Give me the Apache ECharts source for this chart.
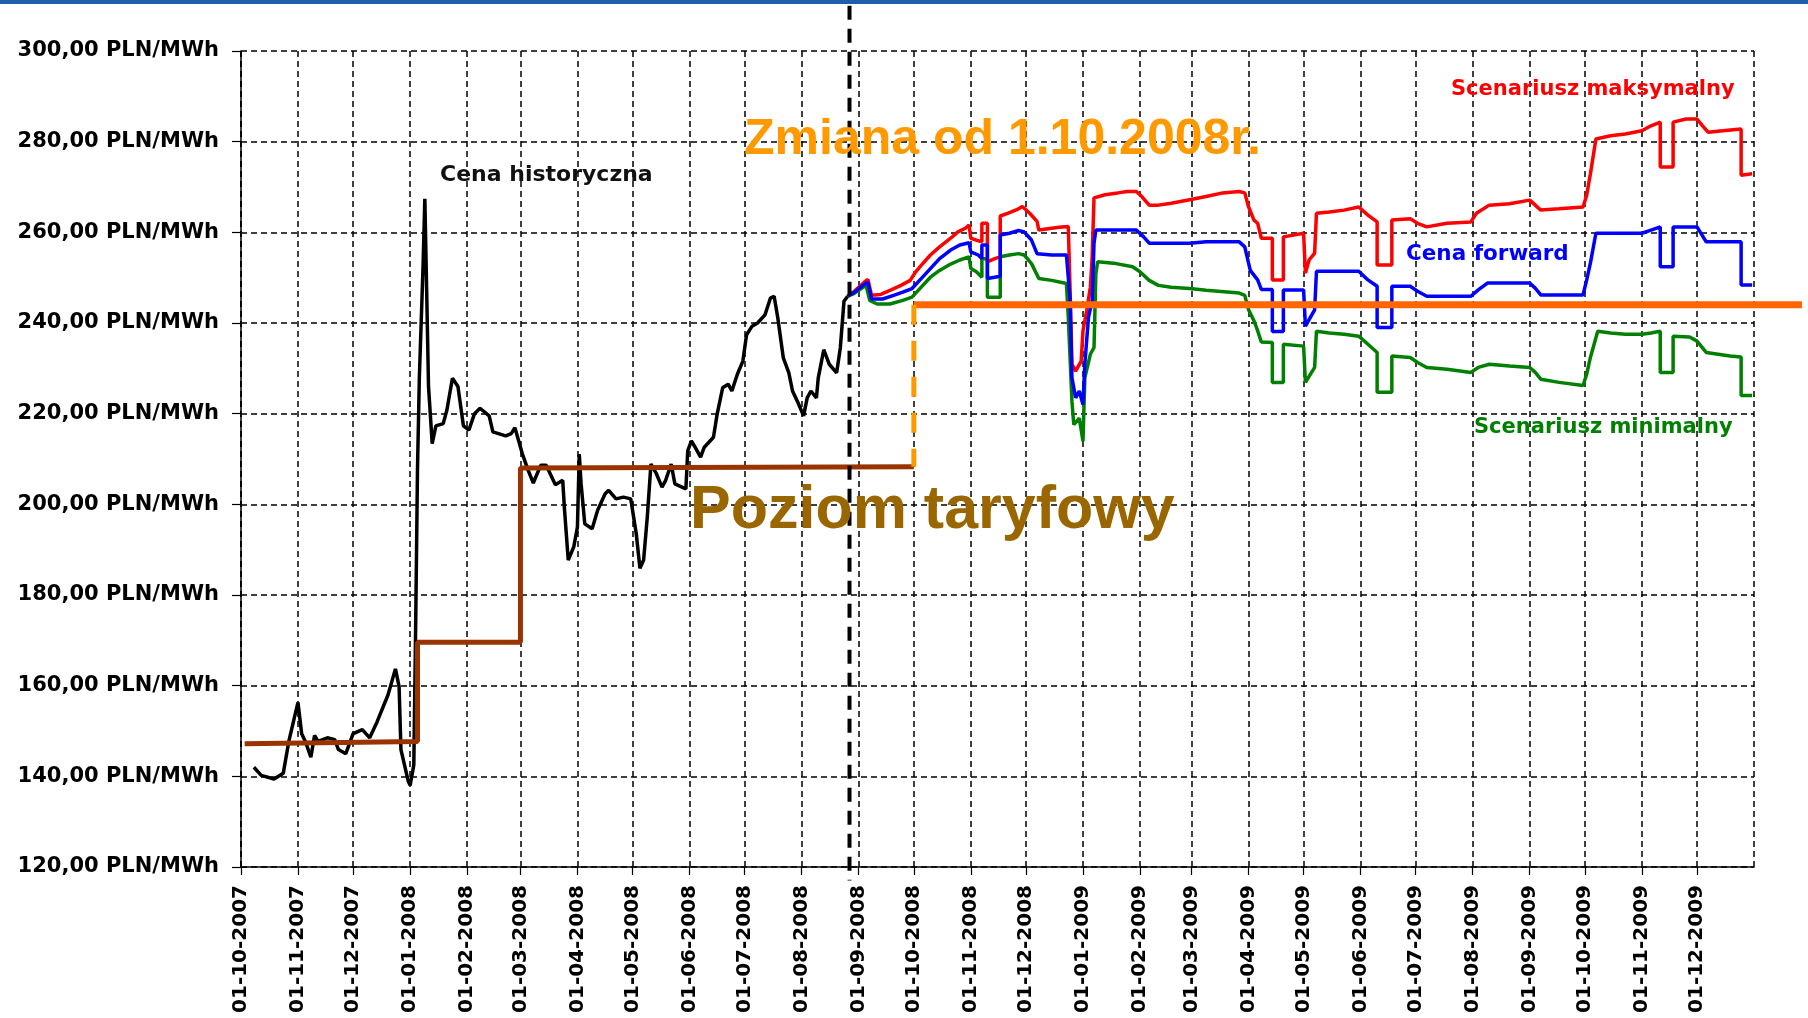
<!DOCTYPE html>
<html>
<head>
<meta charset="utf-8">
<script src="https://cdn.jsdelivr.net/npm/echarts@6.0.0/dist/echarts.min.js"></script>
<style>
  html, body { margin: 0; padding: 0; background: #fff; }
  #chart { width: 1808px; height: 1018px; }
  .topbar { position: absolute; left: 0; top: 0; width: 1808px; height: 4px; background: #1f5faa; z-index: 2; }
</style>
</head>
<body>
<div class="topbar"></div>
<div id="chart"></div>
<script>
  // cena historyczna (spot)
  var historical = [
    ['2007-10-08',142.0],['2007-10-12',140.2],['2007-10-19',139.4],['2007-10-24',140.7],['2007-10-27',147.7],
    ['2007-10-30',152.9],['2007-11-01',156.3],['2007-11-03',149.4],['2007-11-05',147.7],['2007-11-08',144.2],
    ['2007-11-10',149.0],['2007-11-12',147.7],['2007-11-17',148.5],['2007-11-21',148.1],['2007-11-23',145.9],
    ['2007-11-27',145.0],['2007-12-01',149.4],['2007-12-06',150.3],['2007-12-10',148.5],['2007-12-14',152.0],
    ['2007-12-20',158.0],['2007-12-24',163.7],['2007-12-26',159.8],['2007-12-27',145.9],['2007-12-31',138.9],
    ['2008-01-01',138.0],['2008-01-03',142.5],['2008-01-04',172.9],['2008-01-05',207.7],['2008-01-06',227.8],
    ['2008-01-07',240.0],['2008-01-08',252.2],['2008-01-09',267.4],['2008-01-10',247.0],['2008-01-11',226.0],
    ['2008-01-13',213.4],['2008-01-15',217.3],['2008-01-19',217.8],['2008-01-21',220.8],['2008-01-24',227.8],
    ['2008-01-27',226.0],['2008-01-30',217.3],['2008-02-02',216.4],['2008-02-05',220.0],['2008-02-08',221.2],
    ['2008-02-13',219.5],['2008-02-15',216.0],['2008-02-22',215.1],['2008-02-25',215.6],['2008-02-27',216.9],
    ['2008-03-02',211.2],['2008-03-05',207.7],['2008-03-08',204.7],['2008-03-12',208.6],['2008-03-15',208.6],
    ['2008-03-20',204.3],['2008-03-24',205.3],['2008-03-25',198.7],['2008-03-27',187.7],['2008-03-30',190.6],
    ['2008-04-01',195.0],['2008-04-02',211.1],['2008-04-03',204.5],['2008-04-05',195.7],['2008-04-09',194.6],
    ['2008-04-12',198.7],['2008-04-16',202.3],['2008-04-18',203.1],['2008-04-22',201.2],['2008-04-26',201.6],
    ['2008-04-30',201.2],['2008-05-03',193.5],['2008-05-05',185.9],['2008-05-07',187.7],['2008-05-09',197.2],
    ['2008-05-11',208.9],['2008-05-14',206.7],['2008-05-17',203.8],['2008-05-19',205.3],['2008-05-22',208.9],
    ['2008-05-24',204.5],['2008-05-30',203.4],['2008-05-31',211.8],['2008-06-02',214.0],['2008-06-04',212.6],
    ['2008-06-07',210.4],['2008-06-09',212.6],['2008-06-14',214.8],['2008-06-16',219.9],['2008-06-19',225.7],
    ['2008-06-22',226.5],['2008-06-24',225.0],['2008-06-27',228.7],['2008-06-30',231.6],['2008-07-02',237.4],
    ['2008-07-05',239.3],['2008-07-08',240.0],['2008-07-12',241.8],['2008-07-15',245.5],['2008-07-17',245.9],
    ['2008-07-19',241.1],['2008-07-22',232.3],['2008-07-25',229.0],['2008-07-27',225.0],['2008-07-30',222.4],
    ['2008-08-02',219.5],['2008-08-04',223.5],['2008-08-06',225.0],['2008-08-09',223.5],['2008-08-10',227.9],
    ['2008-08-13',234.1],['2008-08-16',230.9],['2008-08-20',229.0],['2008-08-22',234.5],['2008-08-24',244.8],
    ['2008-08-26',245.9]
  ];

  // scenariusz maksymalny
  var maxScenario = [
    ['2008-08-26',245.9],['2008-08-29',246.8],['2008-09-04',249.0],['2008-09-06',249.6],['2008-09-08',246.1],
    ['2008-09-13',246.3],['2008-09-18',247.2],['2008-09-24',248.3],['2008-09-29',249.4],['2008-10-02',251.3],
    ['2008-10-05',252.7],['2008-10-10',255.0],['2008-10-15',256.8],['2008-10-21',258.7],['2008-10-25',260.1],
    ['2008-10-29',260.9],['2008-10-31',261.6],['2008-11-01',258.7],['2008-11-04',258.3],['2008-11-07',257.9],
    ['2008-11-07',262.0],['2008-11-10',262.0],['2008-11-10',253.5],['2008-11-14',254.2],['2008-11-17',254.6],
    ['2008-11-17',263.6],['2008-11-21',264.2],['2008-11-26',265.0],['2008-11-29',265.7],['2008-12-03',264.2],
    ['2008-12-07',262.4],['2008-12-08',260.5],['2008-12-19',261.1],['2008-12-24',261.3],['2008-12-25',247.2],
    ['2008-12-26',230.9],['2008-12-28',229.4],['2008-12-31',231.6],['2009-01-01',238.3],['2009-01-03',242.7],
    ['2009-01-05',247.9],['2009-01-06',254.6],['2009-01-07',267.6],['2009-01-13',268.3],['2009-01-20',268.7],
    ['2009-01-25',269.0],['2009-01-30',269.0],['2009-02-02',267.9],['2009-02-06',266.0],['2009-02-11',266.0],
    ['2009-02-18',266.4],['2009-02-28',267.2],['2009-03-09',267.9],['2009-03-18',268.7],['2009-03-27',269.0],
    ['2009-03-30',268.7],['2009-04-01',265.7],['2009-04-04',262.7],['2009-04-06',262.0],['2009-04-08',258.7],
    ['2009-04-14',258.7],['2009-04-14',249.5],['2009-04-20',249.5],['2009-04-20',259.0],['2009-05-01',259.8],
    ['2009-05-02',251.0],['2009-05-04',253.9],['2009-05-07',255.4],['2009-05-08',264.2],['2009-05-15',264.5],
    ['2009-05-23',264.9],['2009-05-31',265.6],['2009-06-05',263.8],['2009-06-10',262.3],['2009-06-10',252.8],
    ['2009-06-18',252.8],['2009-06-18',262.7],['2009-06-28',263.0],['2009-07-02',262.0],['2009-07-07',261.2],
    ['2009-07-18',262.0],['2009-07-31',262.3],['2009-08-03',264.2],['2009-08-10',266.0],['2009-08-21',266.3],
    ['2009-09-01',267.1],['2009-09-04',266.0],['2009-09-07',264.9],['2009-09-17',265.2],['2009-09-30',265.6],
    ['2009-10-02',268.2],['2009-10-04',272.9],['2009-10-07',280.6],['2009-10-15',281.3],['2009-10-23',281.7],
    ['2009-11-01',282.4],['2009-11-06',283.5],['2009-11-11',284.3],['2009-11-11',274.4],['2009-11-18',274.4],
    ['2009-11-18',284.3],['2009-11-25',285.0],['2009-12-01',285.0],['2009-12-04',283.5],['2009-12-07',282.1],
    ['2009-12-15',282.4],['2009-12-25',282.8],['2009-12-25',272.6],['2009-12-31',272.9]
  ];

  // cena forward
  var forwardPrice = [
    ['2008-08-26',245.9],['2008-08-29',246.6],['2008-09-04',248.5],['2008-09-06',249.0],['2008-09-08',245.3],
    ['2008-09-14',245.3],['2008-09-20',246.1],['2008-09-25',246.8],['2008-09-30',247.6],['2008-10-05',249.8],
    ['2008-10-10',252.0],['2008-10-15',254.2],['2008-10-21',256.1],['2008-10-26',257.2],['2008-10-31',257.7],
    ['2008-11-01',255.7],['2008-11-05',255.0],['2008-11-07',254.2],['2008-11-07',257.2],['2008-11-10',257.2],
    ['2008-11-10',249.8],['2008-11-17',250.3],['2008-11-17',259.4],['2008-11-22',259.8],['2008-11-27',260.4],
    ['2008-11-30',260.1],['2008-12-04',258.3],['2008-12-07',255.3],['2008-12-15',255.0],['2008-12-23',255.0],
    ['2008-12-24',250.1],['2008-12-25',245.0],['2008-12-26',227.9],['2008-12-28',223.5],['2008-12-30',225.0],
    ['2009-01-01',222.0],['2009-01-02',230.9],['2009-01-04',241.3],['2009-01-06',245.0],['2009-01-07',257.6],
    ['2009-01-08',260.5],['2009-01-30',260.5],['2009-02-03',259.0],['2009-02-06',257.6],['2009-02-28',257.6],
    ['2009-03-09',257.9],['2009-03-27',257.9],['2009-03-30',256.8],['2009-04-02',251.6],['2009-04-06',249.5],
    ['2009-04-08',247.4],['2009-04-14',247.4],['2009-04-14',238.1],['2009-04-20',238.1],['2009-04-20',247.3],
    ['2009-05-01',247.3],['2009-05-02',239.3],['2009-05-07',242.9],['2009-05-08',251.4],['2009-05-31',251.4],
    ['2009-06-05',249.5],['2009-06-10',248.1],['2009-06-10',239.0],['2009-06-18',239.0],['2009-06-18',248.1],
    ['2009-06-28',248.1],['2009-07-02',247.0],['2009-07-07',245.9],['2009-07-31',245.9],['2009-08-04',247.3],
    ['2009-08-09',248.8],['2009-09-01',248.8],['2009-09-04',247.7],['2009-09-07',246.2],['2009-09-30',246.2],
    ['2009-10-02',249.5],['2009-10-04',253.2],['2009-10-07',259.8],['2009-11-01',259.8],['2009-11-06',260.5],
    ['2009-11-11',261.2],['2009-11-11',252.4],['2009-11-18',252.4],['2009-11-18',261.2],['2009-12-01',261.2],
    ['2009-12-06',257.9],['2009-12-25',257.9],['2009-12-25',248.4],['2009-12-31',248.4]
  ];

  // scenariusz minimalny
  var minScenario = [
    ['2008-08-26',245.9],['2008-08-29',246.4],['2008-09-05',248.3],['2008-09-06',247.9],['2008-09-07',245.0],
    ['2008-09-11',244.2],['2008-09-18',244.2],['2008-09-25',245.0],['2008-09-30',245.7],['2008-10-05',247.9],
    ['2008-10-10',250.1],['2008-10-15',251.6],['2008-10-21',253.0],['2008-10-26',253.9],['2008-10-31',254.6],
    ['2008-11-01',252.0],['2008-11-04',251.3],['2008-11-07',250.1],['2008-11-07',254.2],['2008-11-10',254.2],
    ['2008-11-10',245.7],['2008-11-17',245.7],['2008-11-17',254.6],['2008-11-22',255.0],['2008-11-27',255.3],
    ['2008-11-30',255.0],['2008-12-04',253.1],['2008-12-08',249.8],['2008-12-15',249.4],['2008-12-23',248.7],
    ['2008-12-24',241.3],['2008-12-26',222.7],['2008-12-27',217.6],['2008-12-30',219.0],['2009-01-01',213.9],
    ['2009-01-02',227.9],['2009-01-05',233.1],['2009-01-07',234.6],['2009-01-08',250.9],['2009-01-09',253.5],
    ['2009-01-19',253.1],['2009-01-28',252.4],['2009-02-01',251.3],['2009-02-06',249.4],['2009-02-11',248.3],
    ['2009-02-18',247.9],['2009-02-28',247.6],['2009-03-09',247.2],['2009-03-27',246.6],['2009-03-30',246.1],
    ['2009-04-01',243.0],['2009-04-04',240.5],['2009-04-06',238.3],['2009-04-08',235.8],['2009-04-14',235.7],
    ['2009-04-14',226.9],['2009-04-20',226.9],['2009-04-20',235.3],['2009-05-01',234.9],['2009-05-02',226.9],
    ['2009-05-07',230.2],['2009-05-08',238.2],['2009-05-15',237.8],['2009-05-23',237.5],['2009-05-31',237.1],
    ['2009-06-05',235.3],['2009-06-10',233.5],['2009-06-10',224.7],['2009-06-18',224.7],['2009-06-18',232.7],
    ['2009-06-28',232.4],['2009-07-02',231.3],['2009-07-07',230.2],['2009-07-18',229.8],['2009-07-31',229.1],
    ['2009-08-04',230.2],['2009-08-10',230.9],['2009-08-21',230.5],['2009-09-01',230.2],['2009-09-04',229.1],
    ['2009-09-07',227.6],['2009-09-17',226.9],['2009-09-30',226.2],['2009-10-02',228.7],['2009-10-04',232.4],
    ['2009-10-08',238.2],['2009-10-15',237.8],['2009-10-23',237.5],['2009-11-01',237.5],['2009-11-06',237.8],
    ['2009-11-11',238.2],['2009-11-11',229.1],['2009-11-18',229.1],['2009-11-18',237.1],['2009-11-27',236.9],
    ['2009-12-01',236.0],['2009-12-06',233.5],['2009-12-19',232.7],['2009-12-25',232.5],['2009-12-25',224.0],
    ['2009-12-31',224.0]
  ];

  // poziom taryfowy (stary) i nowy od 1.10.2008
  var tariffLevel = [
    ['2007-10-03',147.2],['2008-01-05',147.7],['2008-01-05',169.6],['2008-03-01',169.6],
    ['2008-03-01',208.0],['2008-10-01',208.3]
  ];
  var tariffStep = [['2008-10-01',244.0],['2008-10-01',208.3]];
  var newTariff = [['2008-10-01',244.0],['2010-01-27',244.0]];

  // granica danych historycznych
  var cutLine = [['2008-08-27',310],['2008-08-27',117]];

  var yMin = 120, yMax = 300, yStep = 20;
  var xStart = '2007-10-01', xEnd = '2010-01-01', xEndWide = '2010-01-27';

  function pad(n) { return (n < 10 ? '0' : '') + n; }
  function fmtDate(v) {
    var d = new Date(v);
    return pad(d.getDate()) + '-' + pad(d.getMonth() + 1) + '-' + d.getFullYear();
  }

  var myChart = echarts.init(document.getElementById('chart'));
  var labelFont = '"DejaVu Sans", Verdana, sans-serif';
  var bigFont = '"Liberation Sans", Arial, sans-serif';

  var option = {
    animation: false,
    backgroundColor: '#fff',
    grid: [
      { left: 241, right: 54, top: 51, bottom: 151, containLabel: false, outerBoundsMode: 'none' },
      // szersza siatka tylko dla linii nowej taryfy, ktora wychodzi poza wykres
      { left: 241, right: 6, top: 51, bottom: 151, containLabel: false, outerBoundsMode: 'none' }
    ],
    xAxis: [{
      type: 'time',
      gridIndex: 0,
      min: xStart,
      max: xEnd,
      splitNumber: 27,
      axisLine: { lineStyle: { color: '#000', width: 1.5 } },
      axisTick: { show: true, length: 8, lineStyle: { color: '#000', width: 1.2 } },
      axisLabel: {
        rotate: 90,
        margin: 18,
        hideOverlap: false,
        showMaxLabel: false,
        color: '#000',
        fontFamily: labelFont,
        fontWeight: 'bold',
        fontSize: 20,
        formatter: function (v) { return fmtDate(v); }
      },
      splitLine: { show: true, lineStyle: { color: '#000', width: 1.5, type: [6, 4] } }
    }, {
      type: 'time',
      gridIndex: 1,
      min: xStart,
      max: xEndWide,
      show: false
    }],
    yAxis: [{
      type: 'value',
      gridIndex: 0,
      min: yMin,
      max: yMax,
      interval: yStep,
      axisLine: { show: true, lineStyle: { color: '#000', width: 1.5 } },
      axisTick: { show: true, length: 9, lineStyle: { color: '#000', width: 1.2 } },
      axisLabel: {
        margin: 22,
        color: '#000',
        fontFamily: labelFont,
        fontWeight: 'bold',
        fontSize: 21,
        formatter: function (v) { return v.toFixed(2).replace('.', ',') + ' PLN/MWh'; }
      },
      splitLine: { show: true, lineStyle: { color: '#000', width: 1.5, type: [6, 4] } }
    }, {
      type: 'value',
      gridIndex: 1,
      min: yMin,
      max: yMax,
      show: false,
      splitLine: { show: false }
    }],
    series: [
      { name: 'Cena historyczna', type: 'line', data: historical, showSymbol: false,
        lineStyle: { color: '#000', width: 3.5 } },
      { name: 'Poziom taryfowy', type: 'line', data: tariffLevel, showSymbol: false,
        lineStyle: { color: '#993300', width: 5 } },
      { name: 'Scenariusz minimalny', type: 'line', data: minScenario, showSymbol: false,
        lineStyle: { color: '#008000', width: 3.5 } },
      { name: 'Scenariusz maksymalny', type: 'line', data: maxScenario, showSymbol: false,
        lineStyle: { color: '#ff0000', width: 3.5 } },
      { name: 'Cena forward', type: 'line', data: forwardPrice, showSymbol: false,
        lineStyle: { color: '#0000ff', width: 3.5 } },
      { name: 'Nowy poziom', type: 'line', data: newTariff, showSymbol: false,
        xAxisIndex: 1, yAxisIndex: 1,
        lineStyle: { color: '#ff6600', width: 7 } },
      { name: 'Zmiana', type: 'line', data: tariffStep, showSymbol: false,
        lineStyle: { color: '#ff9900', width: 5, type: [20, 16] } },
      { name: 'Granica', type: 'line', data: cutLine, showSymbol: false, clip: false,
        lineStyle: { color: '#000', width: 4, type: [14, 9] } }
    ],
    graphic: [
      { type: 'text', x: 440, y: 175, z: 100,
        style: { text: 'Cena historyczna', fill: '#111', font: 'bold 22px ' + labelFont, verticalAlign: 'middle' } },
      { type: 'text', x: 1451, y: 90, z: 100,
        style: { text: 'Scenariusz maksymalny', fill: '#ff0000', font: 'bold 21px ' + labelFont, verticalAlign: 'middle' } },
      { type: 'text', x: 1406, y: 254, z: 100,
        style: { text: 'Cena forward', fill: '#0000ff', font: 'bold 21.5px ' + labelFont, verticalAlign: 'middle' } },
      { type: 'text', x: 1474, y: 428, z: 100,
        style: { text: 'Scenariusz minimalny', fill: '#008000', font: 'bold 21px ' + labelFont, verticalAlign: 'middle' } },
      { type: 'text', x: 744, y: 140, z: 100,
        style: { text: 'Zmiana od 1.10.2008r.', fill: '#ff9900', font: 'bold 50px ' + bigFont, verticalAlign: 'middle' } },
      { type: 'text', x: 690, y: 511, z: 100,
        style: { text: 'Poziom taryfowy', fill: '#996600', font: 'bold 61px ' + bigFont, verticalAlign: 'middle' } }
    ]
  };

  myChart.setOption(option);
</script>
</body>
</html>
